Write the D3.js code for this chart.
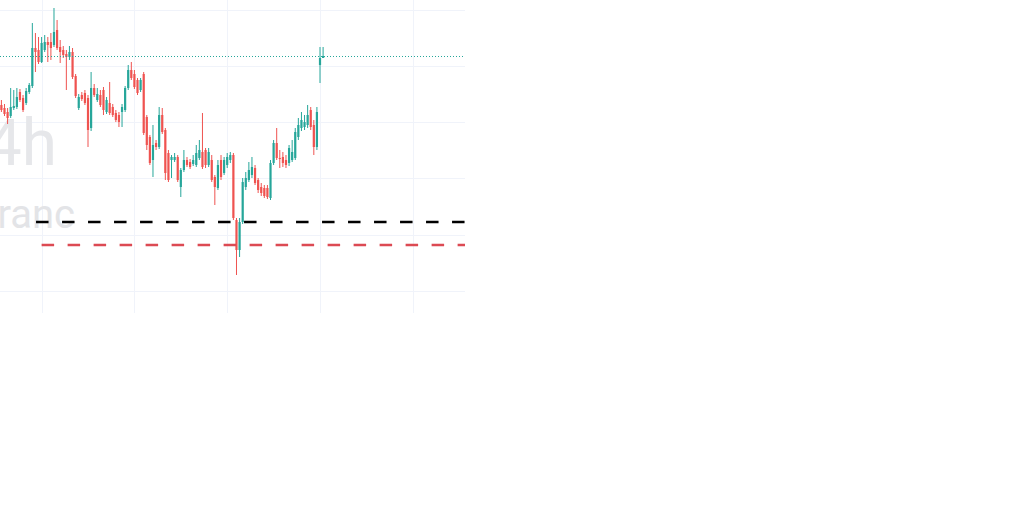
<!DOCTYPE html>
<html>
<head>
<meta charset="utf-8">
<script src="https://cdn.jsdelivr.net/npm/d3@7"></script>
<style>
  html, body { margin: 0; padding: 0; background: #ffffff; }
  svg { display: block; }
</style>
</head>
<body>
<svg id="chart" width="1024" height="517"></svg>
<script>
// ---- data (USD/CHF, 4h candles) ----
const openP  = [0.9135,0.9132,0.9128,0.9124,0.9132,0.9133,0.9148,0.9142,0.9137,0.9148,0.9154,0.9192,0.9190,0.9178,0.9190,0.9198,0.9198,0.9195,0.9210,0.9193,0.9190,0.9186,0.9183,0.9188,0.9164,0.9132,0.9145,0.9147,0.9142,0.9112,0.9152,0.9140,0.9145,0.9150,0.9128,0.9137,0.9133,0.9127,0.9125,0.9128,0.9130,0.9152,0.9170,0.9166,0.9160,0.9150,0.9166,0.9123,0.9103,0.9080,0.9097,0.9093,0.9125,0.9110,0.9087,0.9080,0.9080,0.9083,0.9053,0.9070,0.9080,0.9078,0.9076,0.9075,0.9082,0.9088,0.9090,0.9075,0.9080,0.9063,0.9052,0.9080,0.9067,0.9075,0.9080,0.9085,0.9020,0.8990,0.9018,0.9053,0.9060,0.9065,0.9072,0.9060,0.9053,0.9052,0.9052,0.9042,0.9077,0.9097,0.9082,0.9083,0.9080,0.9077,0.9080,0.9082,0.9103,0.9112,0.9113,0.9115,0.9130,0.9115,0.9093,0.9175,0.9182];
const highP  = [0.9140,0.9136,0.9132,0.9152,0.9150,0.9152,0.9151,0.9145,0.9152,0.9157,0.9217,0.9207,0.9203,0.9203,0.9205,0.9203,0.9207,0.9232,0.9220,0.9200,0.9194,0.9190,0.9194,0.9192,0.9166,0.9146,0.9148,0.9150,0.9145,0.9168,0.9156,0.9152,0.9150,0.9153,0.9143,0.9158,0.9136,0.9130,0.9128,0.9136,0.9154,0.9175,0.9178,0.9170,0.9162,0.9162,0.9168,0.9125,0.9105,0.9115,0.9100,0.9133,0.9132,0.9112,0.9090,0.9085,0.9087,0.9085,0.9072,0.9090,0.9083,0.9081,0.9085,0.9095,0.9100,0.9127,0.9092,0.9092,0.9085,0.9065,0.9080,0.9085,0.9083,0.9087,0.9088,0.9087,0.9022,0.9022,0.9062,0.9068,0.9078,0.9083,0.9075,0.9062,0.9057,0.9055,0.9055,0.9080,0.9100,0.9112,0.9090,0.9088,0.9085,0.9095,0.9100,0.9112,0.9122,0.9128,0.9125,0.9135,0.9133,0.9120,0.9133,0.9193,0.9193];
const lowP   = [0.9128,0.9124,0.9116,0.9122,0.9130,0.9131,0.9138,0.9128,0.9135,0.9146,0.9152,0.9168,0.9176,0.9177,0.9188,0.9178,0.9180,0.9193,0.9190,0.9177,0.9182,0.9150,0.9180,0.9161,0.9142,0.9130,0.9139,0.9135,0.9093,0.9109,0.9143,0.9138,0.9133,0.9125,0.9126,0.9125,0.9123,0.9118,0.9113,0.9113,0.9128,0.9150,0.9160,0.9151,0.9145,0.9148,0.9105,0.9090,0.9075,0.9063,0.9090,0.9091,0.9106,0.9060,0.9058,0.9062,0.9078,0.9058,0.9043,0.9068,0.9073,0.9071,0.9074,0.9073,0.9080,0.9071,0.9072,0.9073,0.9058,0.9035,0.9050,0.9060,0.9065,0.9072,0.9077,0.9020,0.8965,0.8983,0.9016,0.9050,0.9058,0.9062,0.9055,0.9047,0.9044,0.9042,0.9041,0.9040,0.9075,0.9080,0.9072,0.9073,0.9072,0.9074,0.9078,0.9080,0.9100,0.9109,0.9110,0.9112,0.9110,0.9085,0.9090,0.9157,0.9182];
const closeP = [0.9130,0.9126,0.9122,0.9133,0.9134,0.9143,0.9140,0.9130,0.9149,0.9155,0.9192,0.9188,0.9178,0.9197,0.9198,0.9195,0.9192,0.9208,0.9192,0.9188,0.9185,0.9183,0.9188,0.9163,0.9144,0.9143,0.9141,0.9137,0.9110,0.9152,0.9145,0.9146,0.9135,0.9130,0.9140,0.9127,0.9125,0.9120,0.9118,0.9133,0.9152,0.9170,0.9162,0.9153,0.9147,0.9160,0.9107,0.9095,0.9077,0.9095,0.9093,0.9125,0.9108,0.9067,0.9060,0.9083,0.9083,0.9060,0.9070,0.9080,0.9075,0.9073,0.9080,0.9087,0.9090,0.9073,0.9075,0.9088,0.9060,0.9053,0.9075,0.9063,0.9080,0.9083,0.9085,0.9022,0.8990,0.9018,0.9058,0.9062,0.9070,0.9073,0.9057,0.9050,0.9047,0.9044,0.9043,0.9077,0.9097,0.9082,0.9081,0.9077,0.9075,0.9092,0.9088,0.9108,0.9115,0.9120,0.9118,0.9125,0.9113,0.9093,0.9128,0.9182,0.9184];

const weekStartIdx = [13, 43, 73, 103, 133];            // Monday-open candles (vertical grid)
const gridPrices   = [0.9230, 0.9174, 0.9118, 0.9062, 0.9005, 0.8949];
const blackLevel   = { price: 0.9018, startIdx: 11.2 };
const redLevel     = { price: 0.8995, startIdx: 13 };
const lastPrice    = closeP[closeP.length - 1];
const symbolText   = "USDCHF, 4h";
const descText     = "U.S. Dollar / Swiss Franc";

// ---- layout ----
const paneW = 465, paneH = 313;
const UP = "#26a69a", DOWN = "#ef5350";

const svg = d3.select("#chart");
svg.append("defs").append("clipPath").attr("id", "pane")
  .append("rect").attr("x", 0).attr("y", 0).attr("width", paneW).attr("height", paneH);

const x = d3.scaleLinear().domain([0, 104]).range([1.4, 323.1]);
const y = d3.scaleLinear().domain([0.9240, 0.8940]).range([0, 300]);

const g = svg.append("g").attr("clip-path", "url(#pane)");

// grid
g.append("g").selectAll("line").data(gridPrices).join("line")
  .attr("x1", 0).attr("x2", paneW)
  .attr("y1", d => Math.round(y(d)) + 0.5).attr("y2", d => Math.round(y(d)) + 0.5)
  .attr("stroke", "#f0f3fa").attr("stroke-width", 1);
g.append("g").selectAll("line").data(weekStartIdx).join("line")
  .attr("x1", d => Math.round(x(d)) + 0.5).attr("x2", d => Math.round(x(d)) + 0.5)
  .attr("y1", 0).attr("y2", paneH)
  .attr("stroke", "#f0f3fa").attr("stroke-width", 1);

// watermark
g.append("text").text(symbolText)
  .attr("x", 57).attr("y", 165).attr("text-anchor", "end")
  .attr("font-family", "Roboto, 'Open Sans', sans-serif").attr("font-size", 64)
  .attr("fill", "#e6e7ea");
g.append("text").text(descText)
  .attr("x", 75).attr("y", 228).attr("text-anchor", "end")
  .attr("font-family", "Roboto, 'Open Sans', sans-serif").attr("font-size", 40)
  .attr("fill", "#e3e4e7");

// candles
const data = openP.map((o, i) => ({ i, o, h: highP[i], l: lowP[i], c: closeP[i] }));
const cg = g.append("g");
cg.selectAll("line").data(data).join("line")
  .attr("x1", d => x(d.i)).attr("x2", d => x(d.i))
  .attr("y1", d => y(d.h)).attr("y2", d => y(d.l))
  .attr("stroke", d => d.c >= d.o ? UP : DOWN).attr("stroke-width", 1);
cg.selectAll("rect").data(data).join("rect")
  .attr("x", d => x(d.i) - 1.1).attr("width", 2.2)
  .attr("y", d => y(Math.max(d.o, d.c)))
  .attr("height", d => Math.max(1, Math.abs(y(d.o) - y(d.c))))
  .attr("fill", d => d.c >= d.o ? UP : DOWN);

// last price dotted line
g.append("line")
  .attr("x1", 0).attr("x2", paneW)
  .attr("y1", Math.round(y(lastPrice)) + 0.5).attr("y2", Math.round(y(lastPrice)) + 0.5)
  .attr("stroke", UP).attr("stroke-width", 1).attr("stroke-dasharray", "1,2");

// horizontal level rays
g.append("line")
  .attr("x1", x(blackLevel.startIdx)).attr("x2", paneW + 20)
  .attr("y1", y(blackLevel.price)).attr("y2", y(blackLevel.price))
  .attr("stroke", "#000000").attr("stroke-width", 2.4).attr("stroke-dasharray", "12.5,13.5");
g.append("line")
  .attr("x1", x(redLevel.startIdx)).attr("x2", paneW + 20)
  .attr("y1", y(redLevel.price)).attr("y2", y(redLevel.price))
  .attr("stroke", "#dc4a53").attr("stroke-width", 2.4).attr("stroke-dasharray", "12.5,13.5");
</script>
</body>
</html>
